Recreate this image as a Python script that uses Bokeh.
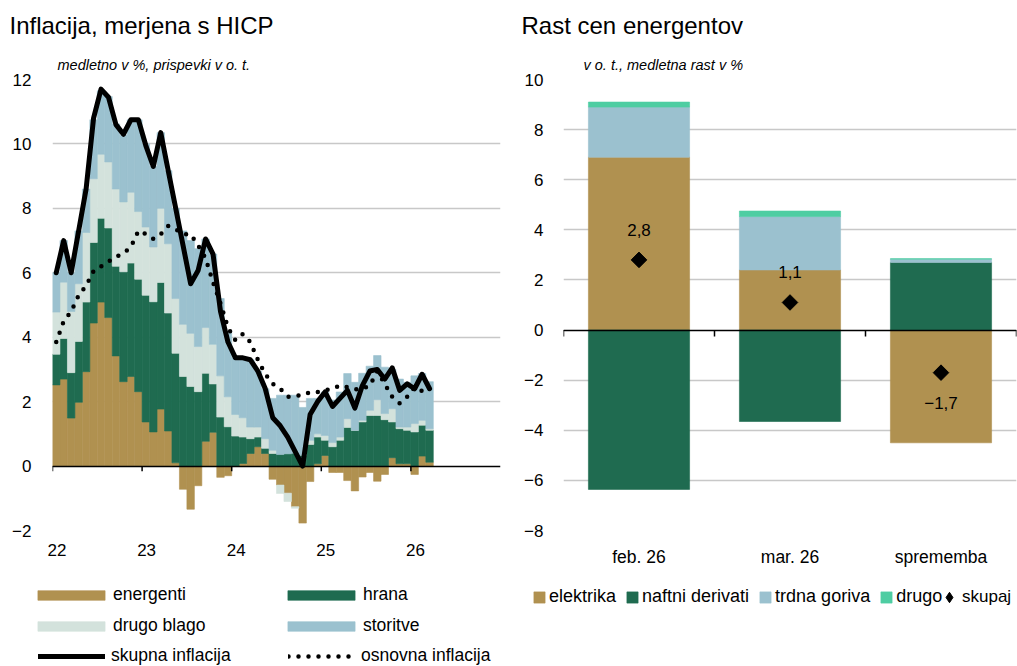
import numpy as np
from bokeh.plotting import figure
from bokeh.layouts import row, column
from bokeh.models import (FixedTicker, CustomJSTickFormatter, Legend, LegendItem,
                          Title, ColumnDataSource, FactorRange)
from bokeh.embed import file_html
from bokeh.resources import INLINE

FONT = "Liberation Sans"

# ---------------- left chart data (monthly, Jan 2022 - Mar 2026) ----------------
months = list(range(51))
energy = [2.52, 2.70, 1.49, 1.98, 2.93, 4.44, 5.09, 4.61, 3.42, 2.62, 2.78, 2.31,
          1.37, 1.06, 1.77, 1.09, 0.10, -0.72, -1.34, -0.61, 0.77, 1.05, -0.35, -0.30,
          0.00, 0.08, 0.39, 0.60, 0.39, -0.41, -0.59, -0.84, -1.26, -1.77, -0.48, 0.07,
          0.33, -0.20, -0.20, -0.45, -0.77, -0.34, -0.20, -0.47, -0.26, 0.26, 0.07, 0.07,
          -0.26, 0.31, 0.12]
food = [0.95, 1.26, 1.41, 1.89, 2.16, 2.50, 2.60, 2.78, 2.78, 3.41, 3.52, 3.49,
        3.93, 4.04, 3.93, 3.66, 3.40, 2.78, 2.47, 2.31, 2.11, 1.50, 1.52, 1.22,
        0.93, 0.82, 0.46, 0.30, 0.16, 0.39, 0.36, 0.38, 0.40, 0.34, 0.67, 0.83,
        0.47, 0.60, 0.80, 1.20, 1.11, 1.37, 1.57, 1.57, 1.44, 1.11, 1.09, 1.04,
        1.06, 0.96, 0.99]
goods = [1.31, 1.75, 1.90, 1.79, 2.16, 1.98, 1.99, 2.05, 2.40, 2.17, 2.20, 2.10,
         2.12, 1.70, 2.30, 2.15, 1.70, 1.62, 1.65, 1.40, 1.42, 1.23, 1.28, 0.93,
         0.67, 0.60, 0.36, 0.31, 0.30, 0.10, -0.26, -0.26, -0.05, 0.00, 0.13, 0.10,
         0.15, 0.13, 0.10, 0.27, 0.00, 0.05, 0.16, 0.49, 0.19, 0.41, 0.05, 0.10,
         0.26, 0.15, 0.05]
services = [1.22, 1.29, 1.20, 1.64, 1.35, 1.83, 1.97, 2.03, 2.02, 2.07, 2.25, 2.85,
            2.58, 2.50, 2.35, 2.27, 2.80, 2.90, 2.88, 3.04, 2.75, 2.80, 2.40, 2.00,
            1.76, 1.86, 2.09, 1.74, 1.55, 1.61, 1.84, 1.82, 1.80, 1.48, 1.30, 1.10,
            1.35, 1.32, 1.40, 1.40, 1.49, 1.46, 1.37, 1.37, 1.44, 1.22, 1.49, 1.39,
            1.48, 1.45, 1.46]
headline = [6.0, 7.0, 6.0, 7.3, 8.6, 10.8, 11.7, 11.45, 10.6, 10.3, 10.75, 10.75,
            9.95, 9.3, 10.35, 9.17, 8.0, 6.83, 5.66, 6.07, 7.05, 6.58, 4.8, 3.85,
            3.36, 3.36, 3.3, 2.95, 2.4, 1.5, 1.25, 0.9, 0.45, 0.0, 1.6, 2.0,
            2.3, 1.85, 2.1, 2.35, 1.8, 2.5, 2.95, 3.0, 2.7, 3.05, 2.35, 2.55,
            2.4, 2.85, 2.4]
core = [3.85, 4.5, 4.8, 5.3, 5.6, 6.05, 6.2, 6.35, 6.5, 6.6, 6.8, 7.3,
        7.2, 7.05, 7.2, 7.45, 7.35, 7.2, 7.2, 6.85, 6.45, 5.7, 5.05, 4.3,
        3.9, 4.1, 3.85, 3.3, 2.85, 2.55, 2.4, 2.15, 2.18, 2.2, 2.3, 2.3,
        2.35, 2.4, 2.5, 2.45, 2.38, 2.4, 2.5, 2.95, 2.55, 2.15, 1.95, 2.15,
        2.45, 2.33, 2.4]
year_ticks = [0, 12, 24, 36, 48]
year_labels = ["22", "23", "24", "25", "26"]
left_yticks = [-2, 0, 2, 4, 6, 8, 10, 12]

# ---------------- right chart data ----------------
cats = ["feb. 26", "mar. 26", "sprememba"]
elektrika = [6.9, 2.4, -4.5]
naftni = [-6.36, -3.65, 2.7]
trdna = [2.0, 2.13, 0.13]
drugo = [0.2, 0.22, 0.02]
skupaj = [2.8, 1.1, -1.7]
right_yticks = [-8, -6, -4, -2, 0, 2, 4, 6, 8, 10]

# ---------------- styles ----------------
C_E = "#B09150"
C_H = "#1F6B50"
C_D = "#D3E2DC"
C_S = "#9BC1CF"
C_O = "#4ECDA2"
GRID = "#C8C8C8"
H_MAIN = 581
H_LEG = 85


def minus(v):
    return str(v).replace("-", "\u2212")


def style_axes(p):
    for ax in (p.xaxis, p.yaxis):
        ax.axis_line_color = None
        ax.major_tick_line_color = None
        ax.minor_tick_line_color = None
        ax.major_tick_out = 0
        ax.minor_tick_out = 0
        ax.major_label_text_font = FONT
        ax.major_label_text_font_size = "17px"
        ax.major_label_text_color = "black"
    p.xgrid.grid_line_color = None
    p.ygrid.grid_line_color = GRID
    p.ygrid.grid_line_width = 1.5
    p.outline_line_color = None
    p.background_fill_color = "white"
    p.border_fill_color = "white"


def stacked(p, xs, comps, width):
    n = len(xs)
    pos = np.zeros(n)
    neg = np.zeros(n)
    rs = []
    for vals, col in comps:
        v = np.asarray(vals, dtype=float)
        bottom = np.where(v >= 0, pos, neg)
        top = bottom + v
        pos = np.where(v >= 0, top, pos)
        neg = np.where(v < 0, top, neg)
        r = p.vbar(x=xs, width=width, bottom=bottom, top=top,
                   fill_color=col, line_color=col, line_width=0.6)
        rs.append(r)
    return rs


# ================= LEFT =================
p1 = figure(width=513, height=H_MAIN, x_range=(0, 60), y_range=(-2, 12), title=None,
            output_backend="svg", toolbar_location=None,
            min_border_left=52, min_border_right=13, min_border_top=77,
            min_border_bottom=50)
style_axes(p1)
p1.yaxis.ticker = FixedTicker(ticks=left_yticks)
p1.yaxis.major_label_overrides = {t: minus(t) for t in left_yticks}
p1.yaxis.major_label_standoff = 21
p1.ygrid.ticker = FixedTicker(ticks=[t for t in left_yticks if t != 0])
p1.xaxis.ticker = FixedTicker(ticks=[t + 0.6 for t in year_ticks])
p1.xaxis.formatter = CustomJSTickFormatter(
    args=dict(labels=year_labels),
    code="return labels[Math.round((tick - 0.6) / 12)];")
p1.xaxis.major_label_standoff = 13

xs = np.array(months) + 0.5
stacked(p1, xs, [(energy, C_E), (food, C_H), (goods, C_D), (services, C_S)], 1.0)
p1.hspan(y=[0], line_color="black", line_width=1.5)
p1.segment(x0=year_ticks, y0=[0] * len(year_ticks), x1=year_ticks,
           y1=[-0.16] * len(year_ticks), line_color="black", line_width=1.5)
p1.line(xs, headline, line_color="black", line_width=5,
        line_join="round", line_cap="round")
p1.line(xs, core, line_color="black", line_width=4.5,
        line_dash="0 10", line_cap="round")

p1.add_layout(Title(text="medletno v %, prispevki v o. t.", text_font=FONT,
                    text_font_size="14.5px", text_font_style="italic", align="left",
                    offset=5, standoff=14, text_color="black"), "above")
p1.add_layout(Title(text="Inflacija, merjena s HICP", text_font=FONT,
                    text_font_size="24px", text_font_style="normal", align="left",
                    offset=-43, standoff=18, text_color="black"), "above")

# ================= RIGHT =================
p2 = figure(width=504, height=H_MAIN, x_range=FactorRange(factors=cats, range_padding=0),
            y_range=(-8, 10), title=None, output_backend="svg", toolbar_location=None,
            min_border_left=50, min_border_right=1, min_border_top=77,
            min_border_bottom=51)
style_axes(p2)
p2.xaxis.major_label_text_font_size = "17.5px"
p2.yaxis.ticker = FixedTicker(ticks=right_yticks)
p2.yaxis.major_label_overrides = {t: minus(t) for t in right_yticks}
p2.yaxis.major_label_standoff = 20
p2.ygrid.ticker = FixedTicker(ticks=[t for t in right_yticks if t != 0])
p2.xaxis.major_label_standoff = 16

stacked(p2, cats, [(elektrika, C_E), (naftni, C_H), (trdna, C_S), (drugo, C_O)], 0.67)
p2.hspan(y=[0], line_color="black", line_width=1.5)
bounds = [(c, -0.5) for c in cats] + [(cats[-1], 0.5)]
p2.segment(x0=bounds, y0=[0] * len(bounds), x1=bounds, y1=[-0.26] * len(bounds),
           line_color="black", line_width=1.5)
p2.scatter(x=cats, y=skupaj, marker="square", angle=45, angle_units="deg",
           size=11, color="black")
lab_src = ColumnDataSource(dict(
    x=cats, y=skupaj,
    t=[minus(f"{v:.1f}".replace(".", ",")) for v in skupaj],
    off=[-30 if v >= 0 else 30 for v in skupaj]))
p2.text(x="x", y="y", text="t", y_offset="off", source=lab_src, text_align="center",
        text_baseline="middle", text_font_size="17px", text_color="black",
        text_font={"value": FONT})

p2.add_layout(Title(text="v o. t., medletna rast v %", text_font=FONT,
                    text_font_size="14.5px", text_font_style="italic", align="left",
                    offset=20, standoff=14, text_color="black"), "above")
p2.add_layout(Title(text="Rast cen energentov", text_font=FONT,
                    text_font_size="24px", text_font_style="normal", align="left",
                    offset=-42, standoff=18, text_color="black"), "above")

# ================= LEGENDS (one strip under both charts) =================
lf = figure(width=1017, height=H_LEG, x_range=(0, 1), y_range=(0, 1), title=None,
            output_backend="svg", toolbar_location=None, x_axis_location=None,
            y_axis_location=None, min_border_left=0, min_border_right=0,
            min_border_top=0, min_border_bottom=0)
lf.outline_line_color = None
lf.background_fill_color = "white"
lf.border_fill_color = "white"
lf.grid.visible = False

# hidden proxies carrying the same styles as the chart marks
g_e, g_h, g_d, g_s = stacked(lf, xs, [(energy, C_E), (food, C_H), (goods, C_D),
                                      (services, C_S)], 1.0)
g_head = lf.line(xs, headline, line_color="black", line_width=5, line_cap="round")
g_core = lf.line(xs, core, line_color="black", line_width=4.5,
                 line_dash="0 10", line_cap="round")
idx3 = np.arange(len(cats))
q_el, q_na, q_tr, q_dr = stacked(lf, idx3, [(elektrika, C_E), (naftni, C_H),
                                            (trdna, C_S), (drugo, C_O)], 0.67)
q_sk = lf.scatter(x=idx3, y=skupaj, marker="diamond", size=11, color="black")
for r in (g_e, g_h, g_d, g_s, g_head, g_core, q_el, q_na, q_tr, q_dr, q_sk):
    r.visible = False

common = dict(padding=0, margin=0, border_line_color=None, background_fill_alpha=0,
              label_text_font=FONT, label_text_color="black",
              inactive_fill_alpha=0)

leg1a = Legend(items=[LegendItem(label="energenti", renderers=[g_e]),
                      LegendItem(label="hrana", renderers=[g_h]),
                      LegendItem(label="drugo blago", renderers=[g_d]),
                      LegendItem(label="storitve", renderers=[g_s])],
               orientation="horizontal", ncols=2, location=(29, 30),
               glyph_width=84, glyph_height=12, label_standoff=0, spacing=10,
               label_width=156, label_text_font_size="17.5px", **common)
lf.add_layout(leg1a, "center")

leg1b = Legend(items=[LegendItem(label="skupna inflacija", renderers=[g_head]),
                      LegendItem(label="osnovna inflacija", renderers=[g_core])],
               orientation="horizontal", location=(38, 0),
               glyph_width=67, glyph_height=10, label_standoff=6, spacing=10,
               label_width=167, label_text_font_size="17.5px", **common)
lf.add_layout(leg1b, "center")

leg2 = Legend(items=[LegendItem(label="elektrika", renderers=[q_el]),
                     LegendItem(label="naftni derivati", renderers=[q_na]),
                     LegendItem(label="trdna goriva", renderers=[q_tr]),
                     LegendItem(label="drugo", renderers=[q_dr])],
              orientation="horizontal", location=(532, 59),
              glyph_width=14, glyph_height=14, label_standoff=3, spacing=9,
              label_text_font_size="18px", **common)
lf.add_layout(leg2, "center")

leg3 = Legend(items=[LegendItem(label="skupaj", renderers=[q_sk])],
              orientation="horizontal", location=(936, 56),
              glyph_width=26, glyph_height=26, label_standoff=0, spacing=0,
              label_text_font_size="17px", **common)
lf.add_layout(leg3, "center")

layout = column(row(p1, p2), lf)
open("out.html", "w").write(file_html(layout, INLINE))
